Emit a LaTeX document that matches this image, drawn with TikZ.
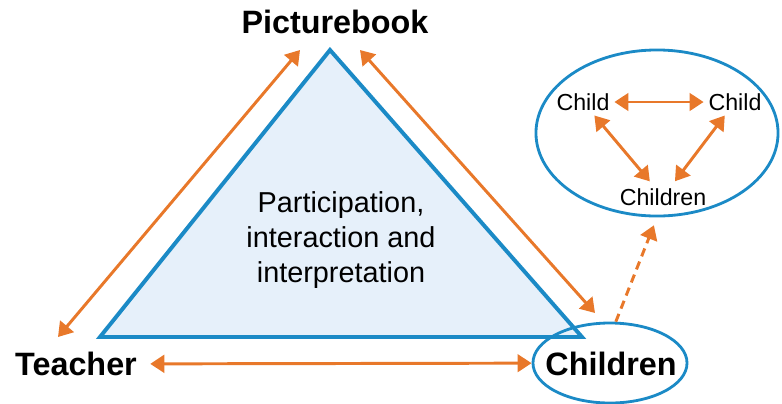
\documentclass[tikz,border=0pt]{standalone}
\usepackage{fontspec}
\setmainfont{Liberation Sans}
\usetikzlibrary{arrows.meta,shapes.geometric,positioning}
\definecolor{linkorange}{HTML}{E8782A}
\definecolor{edgeblue}{HTML}{1B8AC6}
\definecolor{areablue}{HTML}{E6F0FA}

\begin{document}
\begin{tikzpicture}[x=0.025cm, y=-0.025cm, >={Triangle[length=10pt,width=12.5pt]},
    link/.style={linkorange, line width=2.1pt},
    corner/.style={font=\fontsize{23}{28}\selectfont\bfseries},
    member/.style={font=\fontsize{16.5}{20}\selectfont}
]
    \useasboundingbox (0,0) rectangle (782,403);

    % Triangle of participation
    \coordinate (apex) at (330,50);
    \coordinate (baseL) at (100,337);
    \coordinate (baseR) at (582,337);
    \draw[edgeblue, fill=areablue, line width=2.8pt] (apex) -- (baseL) -- (baseR) -- cycle;
    \node[align=center,
        font=\fontsize{20.5}{25}\selectfont
    ] (middle) at (341,240) {Participation,\\interaction and\\interpretation};

    % Corners
    \node[corner] (book) at (335,22) {Picturebook};
    \node[corner] (teacher) at (76,364) {Teacher};
    \node[corner] (children) at (611,364) {Children};
    \node[draw=edgeblue,
        line width=2pt,
        ellipse,
        inner sep=0pt,
        minimum width=3.85cm,
        minimum height=2cm
    ] (ring) at (610,363) {};

    % Group of children
    \node[draw=edgeblue,
        line width=2pt,
        ellipse,
        inner sep=0pt,
        minimum width=6.05cm,
        minimum height=4.15cm
    ] (group) at (657,133) {};
    \node[member] (childL) at (583,102) {Child};
    \node[member] (childR) at (735,102) {Child};
    \node[member] (childS) at (663,197) {Children};

    % Links
    \coordinate (bookL) at (300,50);
    \coordinate (bookR) at (360,50);
    \coordinate (teacherT) at (58,337);
    \coordinate (childrenT) at (595,313);
    \draw[link, <->] (bookL) -- (teacherT);
    \draw[link, <->] (bookR) -- (childrenT);
    \draw[link, <->, shorten <=6pt] (teacher) -- (ring);
    \draw[link, ->, dash pattern=on 6pt off 4pt, shorten >=6pt] (ring.82) -- (group.south);
    \draw[link, <->] (childL) -- (childR);
    \draw[link, <->, shorten >=2pt] (childL) -- (childS);
    \draw[link, <->, shorten >=2pt] (childR) -- (childS);
\end{tikzpicture}
\end{document}
